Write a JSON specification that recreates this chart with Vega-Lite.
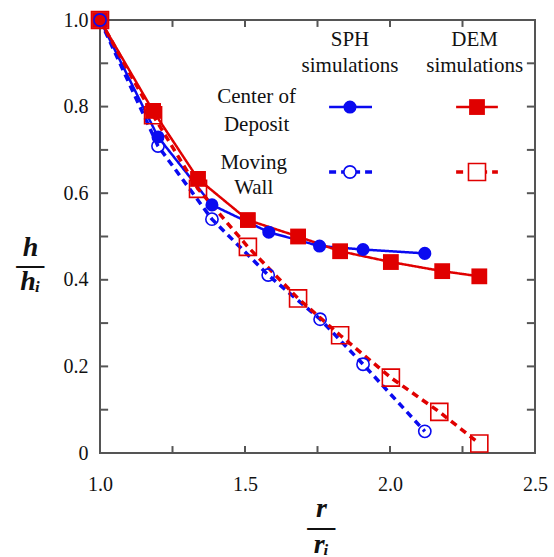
{
  "$schema": "https://vega.github.io/schema/vega-lite/v6.json",
  "width": 435,
  "height": 433,
  "autosize": "none",
  "padding": {"left": 100, "top": 20, "right": 19, "bottom": 104},
  "background": "white",
  "config": {
    "view": {"stroke": "#555", "strokeWidth": 2},
    "font": "Liberation Serif"
  },
  "datasets": {
    "series": [
      {"method": "SPH", "location": "Center of Deposit", "r": 1.0, "h": 1.0},
      {"method": "SPH", "location": "Center of Deposit", "r": 1.2, "h": 0.730},
      {"method": "SPH", "location": "Center of Deposit", "r": 1.386, "h": 0.573},
      {"method": "SPH", "location": "Center of Deposit", "r": 1.582, "h": 0.510},
      {"method": "SPH", "location": "Center of Deposit", "r": 1.757, "h": 0.478},
      {"method": "SPH", "location": "Center of Deposit", "r": 1.907, "h": 0.470},
      {"method": "SPH", "location": "Center of Deposit", "r": 2.12, "h": 0.461},
      {"method": "DEM", "location": "Center of Deposit", "r": 1.0, "h": 1.0},
      {"method": "DEM", "location": "Center of Deposit", "r": 1.183, "h": 0.790},
      {"method": "DEM", "location": "Center of Deposit", "r": 1.338, "h": 0.633},
      {"method": "DEM", "location": "Center of Deposit", "r": 1.510, "h": 0.538},
      {"method": "DEM", "location": "Center of Deposit", "r": 1.683, "h": 0.500},
      {"method": "DEM", "location": "Center of Deposit", "r": 1.828, "h": 0.466},
      {"method": "DEM", "location": "Center of Deposit", "r": 2.003, "h": 0.441},
      {"method": "DEM", "location": "Center of Deposit", "r": 2.180, "h": 0.420},
      {"method": "DEM", "location": "Center of Deposit", "r": 2.308, "h": 0.408},
      {"method": "SPH", "location": "Moving Wall", "r": 1.0, "h": 1.0},
      {"method": "SPH", "location": "Moving Wall", "r": 1.2, "h": 0.709},
      {"method": "SPH", "location": "Moving Wall", "r": 1.386, "h": 0.540},
      {"method": "SPH", "location": "Moving Wall", "r": 1.580, "h": 0.411},
      {"method": "SPH", "location": "Moving Wall", "r": 1.759, "h": 0.309},
      {"method": "SPH", "location": "Moving Wall", "r": 1.907, "h": 0.205},
      {"method": "SPH", "location": "Moving Wall", "r": 2.12, "h": 0.050},
      {"method": "DEM", "location": "Moving Wall", "r": 1.0, "h": 1.0},
      {"method": "DEM", "location": "Moving Wall", "r": 1.183, "h": 0.780},
      {"method": "DEM", "location": "Moving Wall", "r": 1.338, "h": 0.610},
      {"method": "DEM", "location": "Moving Wall", "r": 1.510, "h": 0.476},
      {"method": "DEM", "location": "Moving Wall", "r": 1.683, "h": 0.357},
      {"method": "DEM", "location": "Moving Wall", "r": 1.828, "h": 0.272},
      {"method": "DEM", "location": "Moving Wall", "r": 2.003, "h": 0.174},
      {"method": "DEM", "location": "Moving Wall", "r": 2.170, "h": 0.095},
      {"method": "DEM", "location": "Moving Wall", "r": 2.308, "h": 0.022}
    ],
    "hticks": [
      {"v": 0.1, "a": 1.0, "b": 1.028}, {"v": 0.2, "a": 1.0, "b": 1.028}, {"v": 0.3, "a": 1.0, "b": 1.028},
      {"v": 0.4, "a": 1.0, "b": 1.028}, {"v": 0.5, "a": 1.0, "b": 1.028}, {"v": 0.6, "a": 1.0, "b": 1.028},
      {"v": 0.7, "a": 1.0, "b": 1.028}, {"v": 0.8, "a": 1.0, "b": 1.028}, {"v": 0.9, "a": 1.0, "b": 1.028},
      {"v": 0.1, "a": 2.472, "b": 2.5}, {"v": 0.2, "a": 2.472, "b": 2.5}, {"v": 0.3, "a": 2.472, "b": 2.5},
      {"v": 0.4, "a": 2.472, "b": 2.5}, {"v": 0.5, "a": 2.472, "b": 2.5}, {"v": 0.6, "a": 2.472, "b": 2.5},
      {"v": 0.7, "a": 2.472, "b": 2.5}, {"v": 0.8, "a": 2.472, "b": 2.5}, {"v": 0.9, "a": 2.472, "b": 2.5}
    ],
    "vticks": [
      {"v": 1.25, "a": 0.0, "b": 0.016}, {"v": 1.5, "a": 0.0, "b": 0.016}, {"v": 1.75, "a": 0.0, "b": 0.016},
      {"v": 2.0, "a": 0.0, "b": 0.016}, {"v": 2.25, "a": 0.0, "b": 0.016},
      {"v": 1.25, "a": 0.984, "b": 1.0}, {"v": 1.5, "a": 0.984, "b": 1.0}, {"v": 1.75, "a": 0.984, "b": 1.0},
      {"v": 2.0, "a": 0.984, "b": 1.0}, {"v": 2.25, "a": 0.984, "b": 1.0}
    ],
    "legendSymbols": [
      {"method": "SPH", "location": "Center of Deposit", "x": 1.862, "x2": 1.790, "x3": 1.938, "y": 0.799},
      {"method": "DEM", "location": "Center of Deposit", "x": 2.300, "x2": 2.228, "x3": 2.372, "y": 0.799},
      {"method": "SPH", "location": "Moving Wall", "x": 1.862, "x2": 1.790, "x3": 1.938, "y": 0.649},
      {"method": "DEM", "location": "Moving Wall", "x": 2.300, "x2": 2.228, "x3": 2.372, "y": 0.649}
    ],
    "legendText": [
      {"t": "SPH", "x": 1.862, "y": 0.954},
      {"t": "simulations", "x": 1.862, "y": 0.894},
      {"t": "DEM", "x": 2.292, "y": 0.954},
      {"t": "simulations", "x": 2.292, "y": 0.894},
      {"t": "Center of", "x": 1.54, "y": 0.822},
      {"t": "Deposit", "x": 1.54, "y": 0.757},
      {"t": "Moving", "x": 1.53, "y": 0.670},
      {"t": "Wall", "x": 1.53, "y": 0.612}
    ]
  },
  "layer": [
    {
      "data": {"name": "series"},
      "mark": {"type": "point", "opacity": 0},
      "encoding": {
        "x": {"field": "r", "type": "quantitative", "scale": {"domain": [1, 2.5], "nice": false, "zero": false},
          "axis": {"orient": "top", "values": [1, 2.5], "labels": false, "domain": false, "grid": false, "ticks": false, "title": null}},
        "y": {"field": "h", "type": "quantitative", "scale": {"domain": [0, 1], "nice": false},
          "axis": {"orient": "right", "values": [0, 1], "labels": false, "domain": false, "grid": false, "ticks": false, "title": null}}
      }
    },
    {
      "data": {"name": "series"},
      "mark": {"type": "line"},
      "encoding": {
        "x": {"field": "r", "type": "quantitative", "scale": {"domain": [1, 2.5], "nice": false, "zero": false},
          "axis": {"orient": "bottom", "values": [1, 1.5, 2, 2.5], "format": ".1f",
            "domain": false, "grid": false, "ticks": false,
            "labelFont": "Liberation Serif", "labelFontSize": 20, "labelColor": "#111", "labelPadding": 21, "labelFlush": false, "labelOverlap": false,
            "title": ["r", "—", "rᵢ"], "titleFont": "Liberation Serif", "titleFontSize": 28, "titleFontStyle": "italic", "titleFontWeight": "bold", "titleColor": "#111",
            "titleLineHeight": 18, "titleAngle": 0, "titleAlign": "center", "titleBaseline": "middle", "titleX": 221, "titleY": 55}},
        "y": {"field": "h", "type": "quantitative", "scale": {"domain": [0, 1], "nice": false},
          "axis": {"orient": "left", "values": [0, 0.2, 0.4, 0.6, 0.8, 1.0],
            "labelExpr": "datum.value==0 ? '0' : format(datum.value,'.1f')",
            "domain": false, "grid": false, "ticks": false,
            "labelFont": "Liberation Serif", "labelFontSize": 20, "labelColor": "#111", "labelPadding": 12, "labelFlush": false, "labelOverlap": false,
            "title": ["h", "—", "hᵢ"], "titleFont": "Liberation Serif", "titleFontSize": 28, "titleFontStyle": "italic", "titleFontWeight": "bold", "titleColor": "#111",
            "titleLineHeight": 17, "titleAngle": 0, "titleAlign": "center", "titleBaseline": "middle", "titleX": -70, "titleY": 227}},
        "detail": {"field": "location"},
        "color": {"field": "method", "type": "nominal", "scale": {"domain": ["SPH", "DEM"], "range": ["#0a0af0", "#e00000"]}, "legend": null},
        "strokeDash": {"field": "location", "type": "nominal", "scale": {"domain": ["Center of Deposit", "Moving Wall"], "range": [[1, 0], [7, 5]]}, "legend": null},
        "size": {"field": "location", "type": "nominal", "scale": {"domain": ["Center of Deposit", "Moving Wall"], "range": [2.5, 3.5]}, "legend": null}
      }
    },
    {
      "data": {"name": "hticks"},
      "mark": {"type": "rule", "color": "#555", "strokeWidth": 2},
      "encoding": {
        "x": {"field": "a", "type": "quantitative", "axis": null},
        "x2": {"field": "b"},
        "y": {"field": "v", "type": "quantitative", "axis": null}
      }
    },
    {
      "data": {"name": "vticks"},
      "mark": {"type": "rule", "color": "#555", "strokeWidth": 2},
      "encoding": {
        "x": {"field": "v", "type": "quantitative", "axis": null},
        "y": {"field": "a", "type": "quantitative", "axis": null},
        "y2": {"field": "b"}
      }
    },
    {
      "data": {"name": "series"},
      "transform": [{"filter": "datum.location == 'Center of Deposit'"}],
      "mark": {"type": "point", "filled": true, "opacity": 1},
      "encoding": {
        "x": {"field": "r", "type": "quantitative", "axis": null},
        "y": {"field": "h", "type": "quantitative", "axis": null},
        "color": {"field": "method", "type": "nominal", "scale": {"domain": ["SPH", "DEM"], "range": ["#0a0af0", "#e00000"]}, "legend": null},
        "shape": {"field": "method", "type": "nominal", "scale": {"domain": ["SPH", "DEM"], "range": ["circle", "square"]}, "legend": null},
        "size": {"field": "method", "type": "nominal", "scale": {"domain": ["SPH", "DEM"], "range": [170, 250]}, "legend": null}
      }
    },
    {
      "data": {"name": "series"},
      "transform": [{"filter": "datum.location == 'Moving Wall'"}],
      "mark": {"type": "point", "filled": false, "fill": "transparent", "strokeWidth": 1.6, "opacity": 1},
      "encoding": {
        "x": {"field": "r", "type": "quantitative", "axis": null},
        "y": {"field": "h", "type": "quantitative", "axis": null},
        "color": {"field": "method", "type": "nominal", "scale": {"domain": ["SPH", "DEM"], "range": ["#0a0af0", "#e00000"]}, "legend": null},
        "shape": {"field": "method", "type": "nominal", "scale": {"domain": ["SPH", "DEM"], "range": ["circle", "square"]}, "legend": null},
        "size": {"field": "method", "type": "nominal", "scale": {"domain": ["SPH", "DEM"], "range": [150, 290]}, "legend": null}
      }
    },
    {
      "data": {"name": "legendSymbols"},
      "mark": {"type": "rule"},
      "encoding": {
        "x": {"field": "x2", "type": "quantitative", "axis": null},
        "x2": {"field": "x3"},
        "y": {"field": "y", "type": "quantitative", "axis": null},
        "color": {"field": "method", "type": "nominal", "scale": {"domain": ["SPH", "DEM"], "range": ["#0a0af0", "#e00000"]}, "legend": null},
        "strokeDash": {"field": "location", "type": "nominal", "scale": {"domain": ["Center of Deposit", "Moving Wall"], "range": [[1, 0], [7, 5]]}, "legend": null},
        "size": {"field": "location", "type": "nominal", "scale": {"domain": ["Center of Deposit", "Moving Wall"], "range": [2.5, 3.5]}, "legend": null}
      }
    },
    {
      "data": {"name": "legendSymbols"},
      "transform": [{"filter": "datum.location == 'Center of Deposit'"}],
      "mark": {"type": "point", "filled": true, "opacity": 1},
      "encoding": {
        "x": {"field": "x", "type": "quantitative", "axis": null},
        "y": {"field": "y", "type": "quantitative", "axis": null},
        "color": {"field": "method", "type": "nominal", "scale": {"domain": ["SPH", "DEM"], "range": ["#0a0af0", "#e00000"]}, "legend": null},
        "shape": {"field": "method", "type": "nominal", "scale": {"domain": ["SPH", "DEM"], "range": ["circle", "square"]}, "legend": null},
        "size": {"field": "method", "type": "nominal", "scale": {"domain": ["SPH", "DEM"], "range": [170, 250]}, "legend": null}
      }
    },
    {
      "data": {"name": "legendSymbols"},
      "transform": [{"filter": "datum.location == 'Moving Wall'"}],
      "mark": {"type": "point", "filled": false, "fill": "white", "strokeWidth": 1.6, "opacity": 1},
      "encoding": {
        "x": {"field": "x", "type": "quantitative", "axis": null},
        "y": {"field": "y", "type": "quantitative", "axis": null},
        "color": {"field": "method", "type": "nominal", "scale": {"domain": ["SPH", "DEM"], "range": ["#0a0af0", "#e00000"]}, "legend": null},
        "shape": {"field": "method", "type": "nominal", "scale": {"domain": ["SPH", "DEM"], "range": ["circle", "square"]}, "legend": null},
        "size": {"field": "method", "type": "nominal", "scale": {"domain": ["SPH", "DEM"], "range": [150, 290]}, "legend": null}
      }
    },
    {
      "data": {"name": "legendText"},
      "mark": {"type": "text", "font": "Liberation Serif", "fontSize": 21, "color": "#111", "align": "center", "baseline": "middle"},
      "encoding": {
        "x": {"field": "x", "type": "quantitative", "axis": null},
        "y": {"field": "y", "type": "quantitative", "axis": null},
        "text": {"field": "t"}
      }
    }
  ],
  "resolve": {"axis": {"x": "independent", "y": "independent"}, "scale": {"size": "independent"}}
}
